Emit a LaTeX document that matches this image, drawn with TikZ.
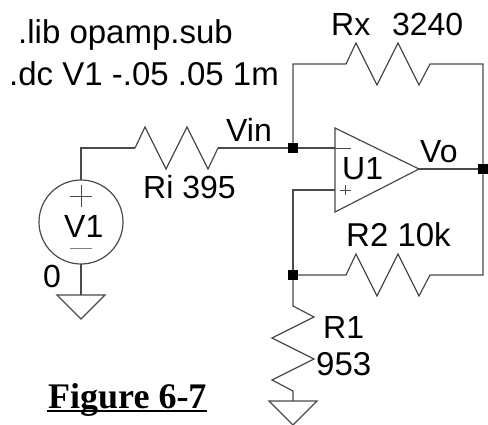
\documentclass[tikz,border=0pt]{standalone}
\usepackage{fontspec}
\setmainfont{Liberation Sans}
\newfontfamily\figfont{Liberation Serif}
\definecolor{myWire}{HTML}{4A4A4A}
\usepackage{tikz}
\usetikzlibrary{
  positioning,
  calc
}
\tikzset{
  wire/.style={draw=myWire, line width=1.2pt, line join=miter},
  dot/.style={fill=black, inner sep=0pt, minimum size=10pt},
  lbl/.style={anchor=base west, inner sep=0pt, font=\fontsize{32}{32}\selectfont},
  lblbig/.style={anchor=base west, inner sep=0pt, font=\fontsize{33}{33}\selectfont},
  signbar/.style={draw=myWire, line width=1pt}
}
\begin{document}
\begin{tikzpicture}[x=1pt, y=-1pt]
      \useasboundingbox (0,0) rectangle (488,424);

      \coordinate (VTop) at (81,180);
      \coordinate (VBot) at (81,264);
      \coordinate (VC) at (81,222);
      \coordinate (Corner) at (81,148);
      \coordinate (RiL) at (135,148);
      \coordinate (RiR) at (218,148);
      \coordinate (RxL) at (346,64);
      \coordinate (RxR) at (430,64);
      \coordinate (TopL) at (293,64);
      \coordinate (TopR) at (483,64);
      \coordinate (R2L) at (346,275);
      \coordinate (R2R) at (430,275);
      \coordinate (BotR) at (483,275);
      \coordinate (R1T) at (293,306);
      \coordinate (R1B) at (293,391);
      \coordinate (G1) at (81,295);
      \coordinate (G2) at (293,401);
      \coordinate (InM) at (335,148);
      \coordinate (InP) at (335,190);
      \coordinate (PlusL) at (293,190);

      % junctions
      \node[dot] (Jin) at (293,148) {};
      \node[dot] (Jo) at (483,169) {};
      \node[dot] (Jp) at (293,275) {};

      % V1 source
      \draw[wire] (VC) circle (42);
      \draw[signbar] (70,196) -- (92,196) (81,185) -- (81,207);
      \draw[signbar, draw=gray] (70,248) -- (92,248);
      \draw[wire] (VTop) -- (Corner) -- (RiL);
      \draw[wire] (VBot) -- (G1);

      % Ri
      \draw[wire] (RiL) -- ++(10,-21) -- ++(21,42) -- ++(21,-42) -- ++(21,42) -- (RiR);
      \draw[wire] (RiR) -- (Jin);

      % Rx
      \draw[wire] (Jin) -- (TopL) -- (RxL) -- ++(10,-21) -- ++(21,42) -- ++(21,-42) -- ++(21,42) -- (RxR) -- (TopR) -- (Jo);

      % U1
      \draw[wire] (335,128) -- (419,169) -- (335,212) -- cycle;
      \draw[signbar] (335,148) -- (351,148);
      \draw[signbar] (340,190) -- (351,190) (345.5,185) -- (345.5,195);
      \draw[wire] (Jin) -- (InM);
      \draw[wire] (419,169) -- (Jo);
      \draw[wire] (InP) -- (PlusL) -- (Jp);

      % R2
      \draw[wire] (Jp) -- (R2L) -- ++(10,-21) -- ++(21,42) -- ++(21,-42) -- ++(21,42) -- (R2R) -- (BotR) -- (Jo);

      % R1
      \draw[wire] (Jp) -- (R1T) -- ++(21,11) -- ++(-42,21) -- ++(42,21) -- ++(-42,21) -- (R1B) -- (G2);

      % grounds
      \draw[wire] ($(G1)+(-24,0)$) -- ($(G1)+(24,0)$) -- ($(G1)+(0,24)$) -- cycle;
      \draw[wire] ($(G2)+(-24,0)$) -- ($(G2)+(24,0)$) -- ($(G2)+(0,24)$) -- cycle;

      % labels
      \node[lblbig] (libT) at (18,43) {.lib opamp.sub};
      \node[lblbig] (dcT) at (9,85) {.dc V1 -.05 .05 1m};
      \node[lbl] (RxT) at (331,35) {Rx\ \ \hspace{4pt}3240};
      \node[lbl] (VinT) at (226,141) {Vin};
      \node[lbl] (RiT) at (143,198) {Ri 395};
      \node[lbl] (VoT) at (420,162) {Vo};
      \node[lbl] (U1T) at (342,179) {U1};
      \node[lbl] (V1T) at (64,237) {V1};
      \node[lbl] (ZeroT) at (43,287) {0};
      \node[lblbig] (R2T) at (346,246) {R2 10k};
      \node[lbl] (R1T) at (323,338) {R1};
      \node[lblbig] (R953T) at (316,375) {953};
      \node[anchor=base west, inner sep=0pt, font=\figfont\bfseries\fontsize{36}{36}\selectfont] (FigT) at (48,408) {Figure 6-7};
      \draw[line width=1.6pt] (47,411) -- (207,411);
    \end{tikzpicture}
\end{document}
